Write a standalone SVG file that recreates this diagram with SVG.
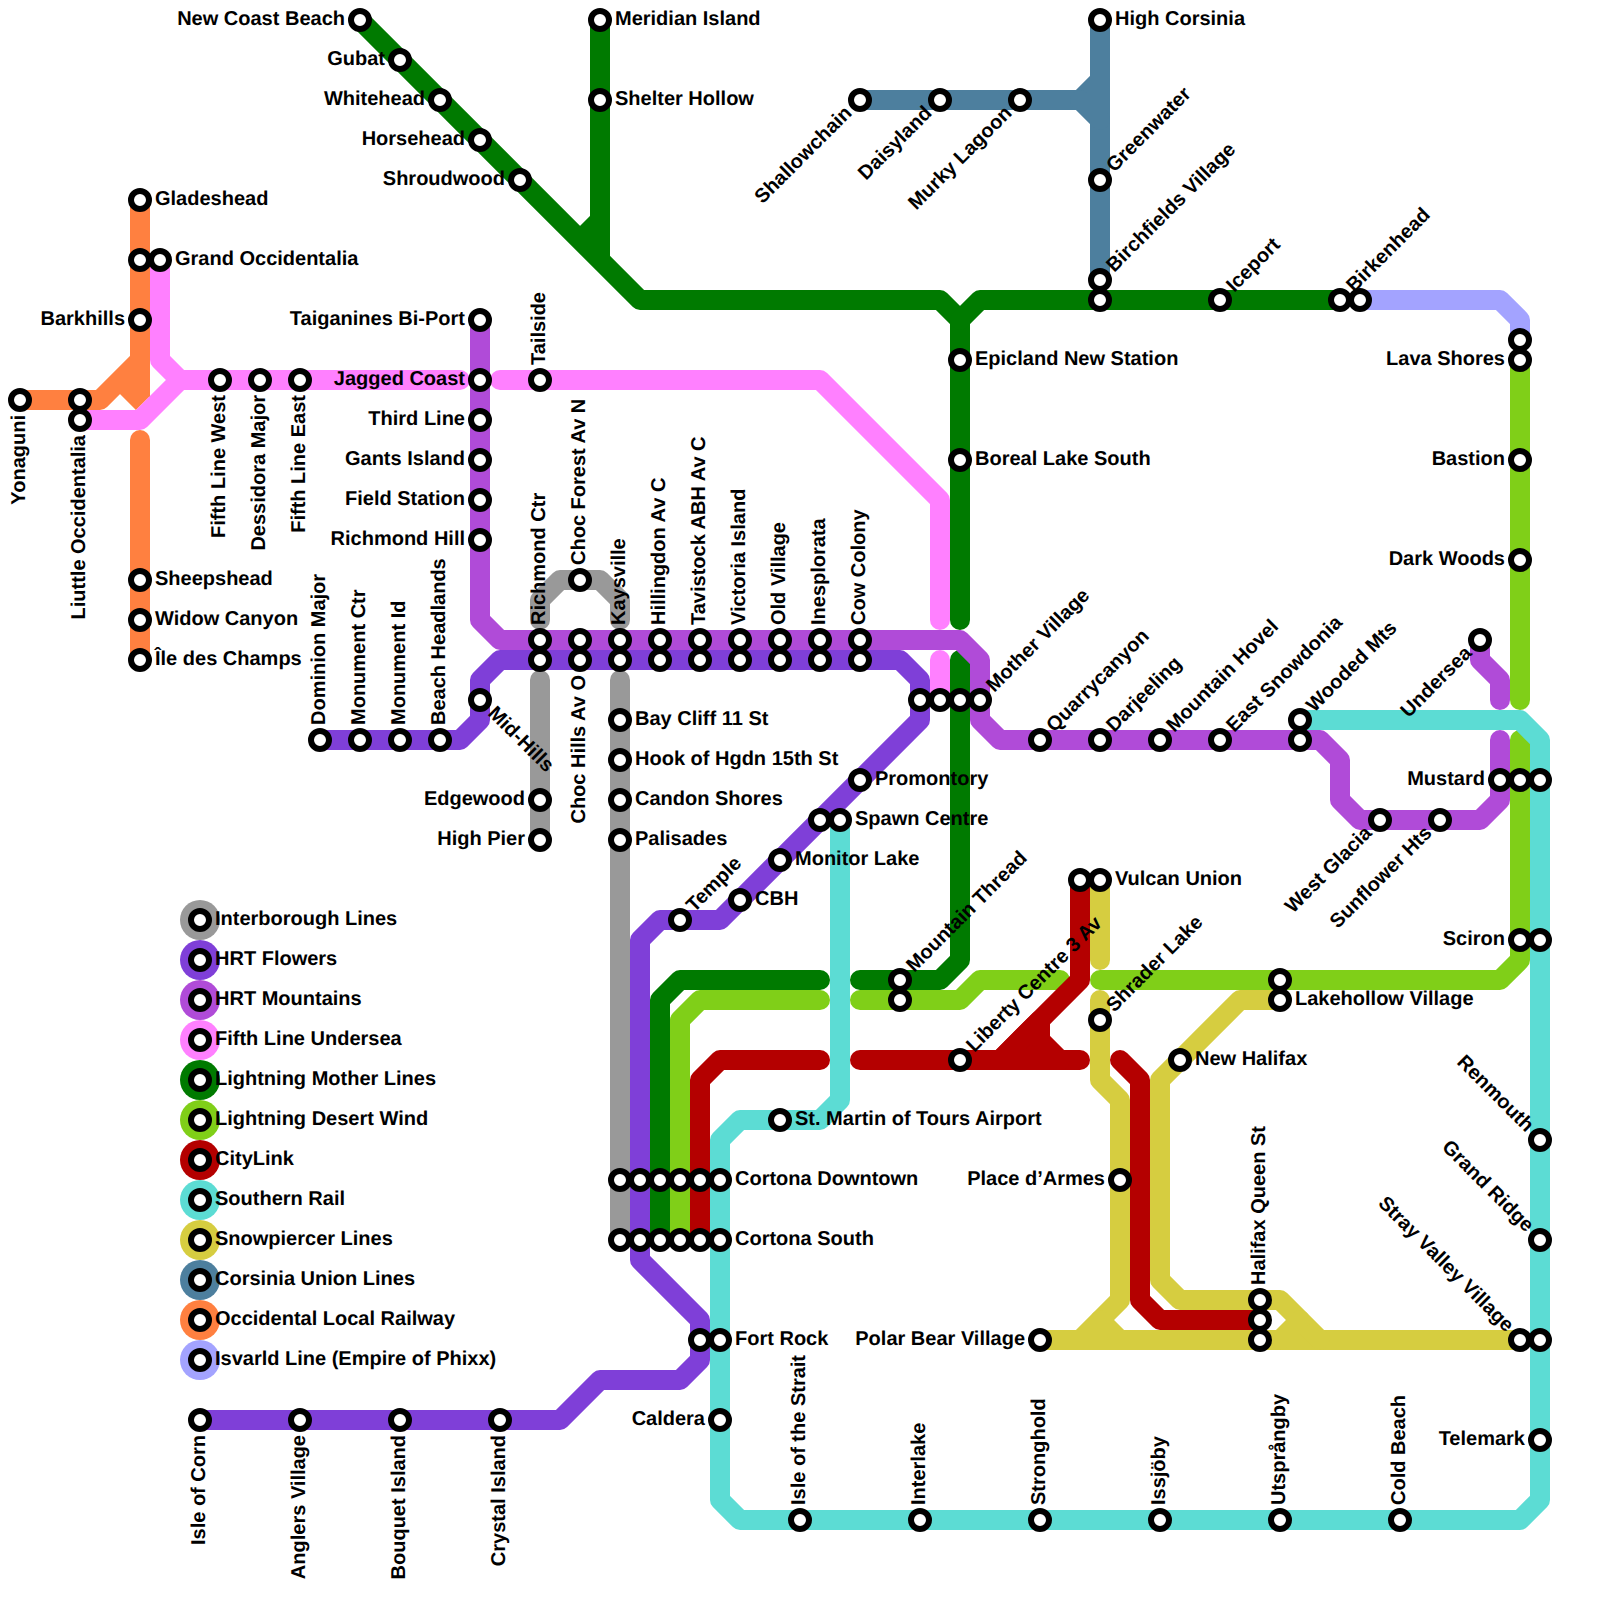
<svg xmlns="http://www.w3.org/2000/svg" width="1600" height="1600" viewBox="0 0 1600 1600">
<style>
.l{fill:none;stroke-width:20;stroke-linejoin:round;stroke-linecap:round}
.b{stroke-linecap:butt}
.grey{stroke:#999999}.flow{stroke:#7f3fd8}.mtn{stroke:#b04bd8}.fifth{stroke:#ff80ff}.moth{stroke:#007a00}.des{stroke:#80cf18}.red{stroke:#b40000}.sou{stroke:#5cdcd4}.snow{stroke:#d6cd40}.cor{stroke:#4d7f9e}.occ{stroke:#ff8040}.isv{stroke:#a3a3ff}
.s{fill:#fff;stroke:#000;stroke-width:6}
text{font-family:"Liberation Sans",Arial,sans-serif;font-weight:bold;font-size:20px;fill:#000;text-rendering:geometricPrecision}
.e{text-anchor:end}
</style>
<defs>
<circle id="st" class="s" r="9"/>
</defs>
<g id="connectors">
<path class="l isv" d="M1360 300H1500L1520 320V340"/>
<path class="l occ" d="M20 400H100L140 360V200"/>
<path class="l b occ" d="M140 200V397"/>
<path class="l b occ" d="M120 380L143 403"/>
<path class="l occ" d="M140 440V660"/>
<path class="l cor" d="M860 100H1080L1100 80"/>
<path class="l cor" d="M1100 20V280"/>
<path class="l cor" d="M1080 100L1100 120"/>
<path class="l snow" d="M1100 880V960"/>
<path class="l snow" d="M1100 1000V1080L1120 1100V1300L1080 1340"/>
<path class="l snow" d="M1100 1320L1120 1340"/>
<path class="l snow" d="M1040 1340H1520"/>
<path class="l snow" d="M1280 1000H1240L1160 1080V1280L1180 1300H1280L1320 1340"/>
<path class="l snow" d="M1300 1320L1280 1340"/>
<path class="l des" d="M1520 360V700"/>
<path class="l des" d="M1520 740V960L1500 980H1100"/>
<path class="l des" d="M1060 980H980L960 1000H860"/>
<path class="l des" d="M820 1000H700L680 1020V1240"/>
<path class="l moth" d="M360 20L640 300H940L960 320V620"/>
<path class="l moth" d="M960 320L980 300H1340"/>
<path class="l b moth" d="M600 20V260"/>
<path class="l b moth" d="M600 220L580 240"/>
<path class="l moth" d="M960 660V960L940 980H860"/>
<path class="l moth" d="M820 980H680L660 1000V1240"/>
<path class="l red" d="M1080 880V980L1000 1060"/>
<path class="l red" d="M860 1060H1080"/>
<path class="l red" d="M1040 1020V1040L1060 1060L1000 1060Z" style="fill:#b40000"/>
<path class="l red" d="M820 1060H720L700 1080V1240"/>
<path class="l red" d="M1120 1060L1140 1080V1300L1160 1320H1260"/>
<path class="l sou" d="M840 820V1100L820 1120H740L720 1140V1500L740 1520H1520L1540 1500V740L1520 720H1300"/>
<path class="l fifth" d="M160 260V360L180 380H460"/>
<path class="l fifth" d="M80 420H140L180 380"/>
<path class="l fifth" d="M500 380H820L940 500V620"/>
<path class="l fifth" d="M940 660V700"/>
<path class="l mtn" d="M480 320V620L500 640H960L980 660V720L1000 740H1320L1340 760V800L1360 820H1480L1500 800V740"/>
<path class="l mtn" d="M1480 640V660L1500 680V700"/>
<path class="l flow" d="M320 740H460L480 720V680L500 660H900L920 680V720L720 920H660L640 940V1260L700 1320V1360L680 1380H600L560 1420H200"/>
<path class="l grey" d="M540 620V600L560 580H600L620 600V620"/>
<path class="l grey" d="M540 680V840"/>
<path class="l grey" d="M620 680V1240"/>
</g>
<g id="legend">
<g id="lg1"><circle cx="200" cy="920" r="20" fill="#999999"/><use href="#st" x="200" y="920"/><text x="215" y="925">Interborough Lines</text></g>
<g id="lg2"><circle cx="200" cy="960" r="20" fill="#7f3fd8"/><use href="#st" x="200" y="960"/><text x="215" y="965">HRT Flowers</text></g>
<g id="lg3"><circle cx="200" cy="1000" r="20" fill="#b04bd8"/><use href="#st" x="200" y="1000"/><text x="215" y="1005">HRT Mountains</text></g>
<g id="lg4"><circle cx="200" cy="1040" r="20" fill="#ff80ff"/><use href="#st" x="200" y="1040"/><text x="215" y="1045">Fifth Line Undersea</text></g>
<g id="lg5"><circle cx="200" cy="1080" r="20" fill="#007a00"/><use href="#st" x="200" y="1080"/><text x="215" y="1085">Lightning Mother Lines</text></g>
<g id="lg6"><circle cx="200" cy="1120" r="20" fill="#80cf18"/><use href="#st" x="200" y="1120"/><text x="215" y="1125">Lightning Desert Wind</text></g>
<g id="lg7"><circle cx="200" cy="1160" r="20" fill="#b40000"/><use href="#st" x="200" y="1160"/><text x="215" y="1165">CityLink</text></g>
<g id="lg8"><circle cx="200" cy="1200" r="20" fill="#5cdcd4"/><use href="#st" x="200" y="1200"/><text x="215" y="1205">Southern Rail</text></g>
<g id="lg9"><circle cx="200" cy="1240" r="20" fill="#d6cd40"/><use href="#st" x="200" y="1240"/><text x="215" y="1245">Snowpiercer Lines</text></g>
<g id="lg10"><circle cx="200" cy="1280" r="20" fill="#4d7f9e"/><use href="#st" x="200" y="1280"/><text x="215" y="1285">Corsinia Union Lines</text></g>
<g id="lg11"><circle cx="200" cy="1320" r="20" fill="#ff8040"/><use href="#st" x="200" y="1320"/><text x="215" y="1325">Occidental Local Railway</text></g>
<g id="lg12"><circle cx="200" cy="1360" r="20" fill="#a3a3ff"/><use href="#st" x="200" y="1360"/><text x="215" y="1365">Isvarld Line (Empire of Phixx)</text></g>
</g>
<g id="stations">
<g id="n1" transform="translate(140,200)"><use href="#st"/><text x="15" y="5">Gladeshead</text></g>
<g id="n2" transform="translate(140,260)"><use href="#st"/></g>
<g id="n3" transform="translate(160,260)"><use href="#st"/><text x="15" y="5">Grand Occidentalia</text></g>
<g id="n4" transform="translate(140,320)"><use href="#st"/><text class="e" x="-15" y="5">Barkhills</text></g>
<g id="n5" transform="translate(20,400)"><use href="#st"/><text class="e" x="-15" y="5" transform="rotate(-90)">Yonaguni</text></g>
<g id="n6" transform="translate(80,400)"><use href="#st"/></g>
<g id="n7" transform="translate(80,420)"><use href="#st"/><text class="e" x="-15" y="5" transform="rotate(-90)">Liuttle Occidentalia</text></g>
<g id="n8" transform="translate(140,580)"><use href="#st"/><text x="15" y="5">Sheepshead</text></g>
<g id="n9" transform="translate(140,620)"><use href="#st"/><text x="15" y="5">Widow Canyon</text></g>
<g id="n10" transform="translate(140,660)"><use href="#st"/><text x="15" y="5">Île des Champs</text></g>
<g id="n11" transform="translate(220,380)"><use href="#st"/><text class="e" x="-15" y="5" transform="rotate(-90)">Fifth Line West</text></g>
<g id="n12" transform="translate(260,380)"><use href="#st"/><text class="e" x="-15" y="5" transform="rotate(-90)">Dessidora Major</text></g>
<g id="n13" transform="translate(300,380)"><use href="#st"/><text class="e" x="-15" y="5" transform="rotate(-90)">Fifth Line East</text></g>
<g id="n14" transform="translate(480,320)"><use href="#st"/><text class="e" x="-15" y="5">Taiganines Bi-Port</text></g>
<g id="n15" transform="translate(480,380)"><use href="#st"/><text class="e" x="-15" y="5">Jagged Coast</text></g>
<g id="n16" transform="translate(480,420)"><use href="#st"/><text class="e" x="-15" y="5">Third Line</text></g>
<g id="n17" transform="translate(480,460)"><use href="#st"/><text class="e" x="-15" y="5">Gants Island</text></g>
<g id="n18" transform="translate(480,500)"><use href="#st"/><text class="e" x="-15" y="5">Field Station</text></g>
<g id="n19" transform="translate(480,540)"><use href="#st"/><text class="e" x="-15" y="5">Richmond Hill</text></g>
<g id="n20" transform="translate(540,380)"><use href="#st"/><text x="15" y="5" transform="rotate(-90)">Tailside</text></g>
<g id="n21" transform="translate(360,20)"><use href="#st"/><text class="e" x="-15" y="5">New Coast Beach</text></g>
<g id="n22" transform="translate(400,60)"><use href="#st"/><text class="e" x="-15" y="5">Gubat</text></g>
<g id="n23" transform="translate(440,100)"><use href="#st"/><text class="e" x="-15" y="5">Whitehead</text></g>
<g id="n24" transform="translate(480,140)"><use href="#st"/><text class="e" x="-15" y="5">Horsehead</text></g>
<g id="n25" transform="translate(520,180)"><use href="#st"/><text class="e" x="-15" y="5">Shroudwood</text></g>
<g id="n26" transform="translate(600,20)"><use href="#st"/><text x="15" y="5">Meridian Island</text></g>
<g id="n27" transform="translate(600,100)"><use href="#st"/><text x="15" y="5">Shelter Hollow</text></g>
<g id="n28" transform="translate(860,100)"><use href="#st"/><text class="e" x="-15" y="5" transform="rotate(-45)">Shallowchain</text></g>
<g id="n29" transform="translate(940,100)"><use href="#st"/><text class="e" x="-15" y="5" transform="rotate(-45)">Daisyland</text></g>
<g id="n30" transform="translate(1020,100)"><use href="#st"/><text class="e" x="-15" y="5" transform="rotate(-45)">Murky Lagoon</text></g>
<g id="n31" transform="translate(1100,20)"><use href="#st"/><text x="15" y="5">High Corsinia</text></g>
<g id="n32" transform="translate(1100,180)"><use href="#st"/><text x="15" y="5" transform="rotate(-45)">Greenwater</text></g>
<g id="n33" transform="translate(1100,280)"><use href="#st"/><text x="15" y="5" transform="rotate(-45)">Birchfields Village</text></g>
<g id="n34" transform="translate(1100,300)"><use href="#st"/></g>
<g id="n35" transform="translate(1220,300)"><use href="#st"/><text x="15" y="5" transform="rotate(-45)">Iceport</text></g>
<g id="n36" transform="translate(1340,300)"><use href="#st"/><text x="15" y="5" transform="rotate(-45)">Birkenhead</text></g>
<g id="n37" transform="translate(1360,300)"><use href="#st"/></g>
<g id="n38" transform="translate(1520,340)"><use href="#st"/></g>
<g id="n39" transform="translate(1520,360)"><use href="#st"/><text class="e" x="-15" y="5">Lava Shores</text></g>
<g id="n40" transform="translate(1520,460)"><use href="#st"/><text class="e" x="-15" y="5">Bastion</text></g>
<g id="n41" transform="translate(1520,560)"><use href="#st"/><text class="e" x="-15" y="5">Dark Woods</text></g>
<g id="n42" transform="translate(960,360)"><use href="#st"/><text x="15" y="5">Epicland New Station</text></g>
<g id="n43" transform="translate(960,460)"><use href="#st"/><text x="15" y="5">Boreal Lake South</text></g>
<g id="n44" transform="translate(1480,640)"><use href="#st"/><text class="e" x="-15" y="5" transform="rotate(-45)">Undersea</text></g>
<g id="n45" transform="translate(580,580)"><use href="#st"/><text x="15" y="5" transform="rotate(-90)">Choc Forest Av N</text></g>
<g id="n46" transform="translate(540,640)"><use href="#st"/><text x="15" y="5" transform="rotate(-90)">Richmond Ctr</text></g>
<g id="n47" transform="translate(580,640)"><use href="#st"/></g>
<g id="n48" transform="translate(620,640)"><use href="#st"/><text x="15" y="5" transform="rotate(-90)">Kaysville</text></g>
<g id="n49" transform="translate(660,640)"><use href="#st"/><text x="15" y="5" transform="rotate(-90)">Hillingdon Av C</text></g>
<g id="n50" transform="translate(700,640)"><use href="#st"/><text x="15" y="5" transform="rotate(-90)">Tavistock ABH Av C</text></g>
<g id="n51" transform="translate(740,640)"><use href="#st"/><text x="15" y="5" transform="rotate(-90)">Victoria Island</text></g>
<g id="n52" transform="translate(780,640)"><use href="#st"/><text x="15" y="5" transform="rotate(-90)">Old Village</text></g>
<g id="n53" transform="translate(820,640)"><use href="#st"/><text x="15" y="5" transform="rotate(-90)">Inesplorata</text></g>
<g id="n54" transform="translate(860,640)"><use href="#st"/><text x="15" y="5" transform="rotate(-90)">Cow Colony</text></g>
<g id="n55" transform="translate(540,660)"><use href="#st"/></g>
<g id="n56" transform="translate(580,660)"><use href="#st"/><text class="e" x="-15" y="5" transform="rotate(-90)">Choc Hills Av O</text></g>
<g id="n57" transform="translate(620,660)"><use href="#st"/></g>
<g id="n58" transform="translate(660,660)"><use href="#st"/></g>
<g id="n59" transform="translate(700,660)"><use href="#st"/></g>
<g id="n60" transform="translate(740,660)"><use href="#st"/></g>
<g id="n61" transform="translate(780,660)"><use href="#st"/></g>
<g id="n62" transform="translate(820,660)"><use href="#st"/></g>
<g id="n63" transform="translate(860,660)"><use href="#st"/></g>
<g id="n64" transform="translate(480,700)"><use href="#st"/><text x="15" y="5" transform="rotate(45)">Mid-Hills</text></g>
<g id="n65" transform="translate(320,740)"><use href="#st"/><text x="15" y="5" transform="rotate(-90)">Dominion Major</text></g>
<g id="n66" transform="translate(360,740)"><use href="#st"/><text x="15" y="5" transform="rotate(-90)">Monument Ctr</text></g>
<g id="n67" transform="translate(400,740)"><use href="#st"/><text x="15" y="5" transform="rotate(-90)">Monument Id</text></g>
<g id="n68" transform="translate(440,740)"><use href="#st"/><text x="15" y="5" transform="rotate(-90)">Beach Headlands</text></g>
<g id="n69" transform="translate(540,800)"><use href="#st"/><text class="e" x="-15" y="5">Edgewood</text></g>
<g id="n70" transform="translate(540,840)"><use href="#st"/><text class="e" x="-15" y="5">High Pier</text></g>
<g id="n71" transform="translate(620,720)"><use href="#st"/><text x="15" y="5">Bay Cliff 11 St</text></g>
<g id="n72" transform="translate(620,760)"><use href="#st"/><text x="15" y="5">Hook of Hgdn 15th St</text></g>
<g id="n73" transform="translate(620,800)"><use href="#st"/><text x="15" y="5">Candon Shores</text></g>
<g id="n74" transform="translate(620,840)"><use href="#st"/><text x="15" y="5">Palisades</text></g>
<g id="n75" transform="translate(920,700)"><use href="#st"/></g>
<g id="n76" transform="translate(940,700)"><use href="#st"/></g>
<g id="n77" transform="translate(960,700)"><use href="#st"/></g>
<g id="n78" transform="translate(980,700)"><use href="#st"/><text x="15" y="5" transform="rotate(-45)">Mother Village</text></g>
<g id="n79" transform="translate(1040,740)"><use href="#st"/><text x="15" y="5" transform="rotate(-45)">Quarrycanyon</text></g>
<g id="n80" transform="translate(1100,740)"><use href="#st"/><text x="15" y="5" transform="rotate(-45)">Darjeeling</text></g>
<g id="n81" transform="translate(1160,740)"><use href="#st"/><text x="15" y="5" transform="rotate(-45)">Mountain Hovel</text></g>
<g id="n82" transform="translate(1220,740)"><use href="#st"/><text x="15" y="5" transform="rotate(-45)">East Snowdonia</text></g>
<g id="n83" transform="translate(1300,720)"><use href="#st"/><text x="15" y="5" transform="rotate(-45)">Wooded Mts</text></g>
<g id="n84" transform="translate(1300,740)"><use href="#st"/></g>
<g id="n85" transform="translate(1380,820)"><use href="#st"/><text class="e" x="-15" y="5" transform="rotate(-45)">West Glacia</text></g>
<g id="n86" transform="translate(1440,820)"><use href="#st"/><text class="e" x="-15" y="5" transform="rotate(-45)">Sunflower Hts</text></g>
<g id="n87" transform="translate(1500,780)"><use href="#st"/><text class="e" x="-15" y="5">Mustard</text></g>
<g id="n88" transform="translate(1520,780)"><use href="#st"/></g>
<g id="n89" transform="translate(1540,780)"><use href="#st"/></g>
<g id="n90" transform="translate(1520,940)"><use href="#st"/><text class="e" x="-15" y="5">Sciron</text></g>
<g id="n91" transform="translate(1540,940)"><use href="#st"/></g>
<g id="n92" transform="translate(860,780)"><use href="#st"/><text x="15" y="5">Promontory</text></g>
<g id="n93" transform="translate(820,820)"><use href="#st"/></g>
<g id="n94" transform="translate(840,820)"><use href="#st"/><text x="15" y="5">Spawn Centre</text></g>
<g id="n95" transform="translate(780,860)"><use href="#st"/><text x="15" y="5">Monitor Lake</text></g>
<g id="n96" transform="translate(740,900)"><use href="#st"/><text x="15" y="5">CBH</text></g>
<g id="n97" transform="translate(680,920)"><use href="#st"/><text x="15" y="5" transform="rotate(-45)">Temple</text></g>
<g id="n98" transform="translate(1080,880)"><use href="#st"/></g>
<g id="n99" transform="translate(1100,880)"><use href="#st"/><text x="15" y="5">Vulcan Union</text></g>
<g id="n100" transform="translate(900,980)"><use href="#st"/><text x="15" y="5" transform="rotate(-45)">Mountain Thread</text></g>
<g id="n101" transform="translate(900,1000)"><use href="#st"/></g>
<g id="n102" transform="translate(1100,1020)"><use href="#st"/><text x="15" y="5" transform="rotate(-45)">Shrader Lake</text></g>
<g id="n103" transform="translate(960,1060)"><use href="#st"/><text x="15" y="5" transform="rotate(-45)">Liberty Centre 3 Av</text></g>
<g id="n104" transform="translate(1280,980)"><use href="#st"/></g>
<g id="n105" transform="translate(1280,1000)"><use href="#st"/><text x="15" y="5">Lakehollow Village</text></g>
<g id="n106" transform="translate(1180,1060)"><use href="#st"/><text x="15" y="5">New Halifax</text></g>
<g id="n107" transform="translate(780,1120)"><use href="#st"/><text x="15" y="5">St. Martin of Tours Airport</text></g>
<g id="n108" transform="translate(620,1180)"><use href="#st"/></g>
<g id="n109" transform="translate(640,1180)"><use href="#st"/></g>
<g id="n110" transform="translate(660,1180)"><use href="#st"/></g>
<g id="n111" transform="translate(680,1180)"><use href="#st"/></g>
<g id="n112" transform="translate(700,1180)"><use href="#st"/></g>
<g id="n113" transform="translate(720,1180)"><use href="#st"/><text x="15" y="5">Cortona Downtown</text></g>
<g id="n114" transform="translate(620,1240)"><use href="#st"/></g>
<g id="n115" transform="translate(640,1240)"><use href="#st"/></g>
<g id="n116" transform="translate(660,1240)"><use href="#st"/></g>
<g id="n117" transform="translate(680,1240)"><use href="#st"/></g>
<g id="n118" transform="translate(700,1240)"><use href="#st"/></g>
<g id="n119" transform="translate(720,1240)"><use href="#st"/><text x="15" y="5">Cortona South</text></g>
<g id="n120" transform="translate(1120,1180)"><use href="#st"/><text class="e" x="-15" y="5">Place d’Armes</text></g>
<g id="n121" transform="translate(1260,1300)"><use href="#st"/><text x="15" y="5" transform="rotate(-90)">Halifax Queen St</text></g>
<g id="n122" transform="translate(1260,1320)"><use href="#st"/></g>
<g id="n123" transform="translate(1260,1340)"><use href="#st"/></g>
<g id="n124" transform="translate(1040,1340)"><use href="#st"/><text class="e" x="-15" y="5">Polar Bear Village</text></g>
<g id="n125" transform="translate(1520,1340)"><use href="#st"/><text class="e" x="-15" y="5" transform="rotate(45)">Stray Valley Village</text></g>
<g id="n126" transform="translate(1540,1340)"><use href="#st"/></g>
<g id="n127" transform="translate(1540,1140)"><use href="#st"/><text class="e" x="-15" y="5" transform="rotate(45)">Renmouth</text></g>
<g id="n128" transform="translate(1540,1240)"><use href="#st"/><text class="e" x="-15" y="5" transform="rotate(45)">Grand Ridge</text></g>
<g id="n129" transform="translate(1540,1440)"><use href="#st"/><text class="e" x="-15" y="5">Telemark</text></g>
<g id="n130" transform="translate(700,1340)"><use href="#st"/></g>
<g id="n131" transform="translate(720,1340)"><use href="#st"/><text x="15" y="5">Fort Rock</text></g>
<g id="n132" transform="translate(720,1420)"><use href="#st"/><text class="e" x="-15" y="5">Caldera</text></g>
<g id="n133" transform="translate(200,1420)"><use href="#st"/><text class="e" x="-15" y="5" transform="rotate(-90)">Isle of Corn</text></g>
<g id="n134" transform="translate(300,1420)"><use href="#st"/><text class="e" x="-15" y="5" transform="rotate(-90)">Anglers Village</text></g>
<g id="n135" transform="translate(400,1420)"><use href="#st"/><text class="e" x="-15" y="5" transform="rotate(-90)">Bouquet Island</text></g>
<g id="n136" transform="translate(500,1420)"><use href="#st"/><text class="e" x="-15" y="5" transform="rotate(-90)">Crystal Island</text></g>
<g id="n137" transform="translate(800,1520)"><use href="#st"/><text x="15" y="5" transform="rotate(-90)">Isle of the Strait</text></g>
<g id="n138" transform="translate(920,1520)"><use href="#st"/><text x="15" y="5" transform="rotate(-90)">Interlake</text></g>
<g id="n139" transform="translate(1040,1520)"><use href="#st"/><text x="15" y="5" transform="rotate(-90)">Stronghold</text></g>
<g id="n140" transform="translate(1160,1520)"><use href="#st"/><text x="15" y="5" transform="rotate(-90)">Issjöby</text></g>
<g id="n141" transform="translate(1280,1520)"><use href="#st"/><text x="15" y="5" transform="rotate(-90)">Utsprångby</text></g>
<g id="n142" transform="translate(1400,1520)"><use href="#st"/><text x="15" y="5" transform="rotate(-90)">Cold Beach</text></g>
</g>
</svg>
